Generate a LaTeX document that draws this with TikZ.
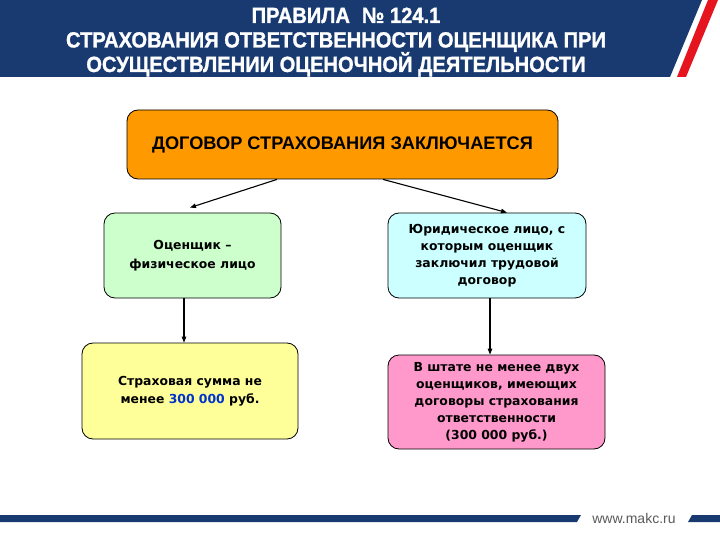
\documentclass[tikz,border=0pt]{standalone}
\usepackage{fontspec}
\setmainfont{DejaVu Sans}
\newfontfamily\titlefont[FakeStretch=0.915, BoldFeatures={FakeBold=1.2}]{Liberation Sans}
\newfontfamily\arialfont{Liberation Sans}
\usetikzlibrary{arrows.meta}
\definecolor{banner}{RGB}{24,58,112}
\definecolor{boxorange}{RGB}{255,153,0}
\definecolor{boxgreen}{RGB}{204,255,204}
\definecolor{boxcyan}{RGB}{204,255,255}
\definecolor{boxyellow}{RGB}{255,255,153}
\definecolor{boxpink}{RGB}{255,153,204}
\definecolor{numblue}{RGB}{0,51,204}
\definecolor{stripered}{RGB}{230,20,30}
\definecolor{urlgray}{RGB}{90,90,90}
\begin{document}
\begin{tikzpicture}[x=1pt,y=-1pt,
  box/.style={draw=black, line width=0.8pt, rounded corners=11pt, align=center, inner sep=2pt,
    font=\bfseries\fontsize{12.4}{17}\selectfont},
  arr/.style={-{Triangle[length=6pt,width=4.5pt]}, line width=1.1pt}]
\useasboundingbox (0,0) rectangle (720,540);
\fill[white] (0,0) rectangle (720,540);
% banner
\fill[banner] (0,0) -- (702,0) -- (670,77) -- (0,77) -- cycle;
\fill[stripered] (708,0) -- (718,0) -- (686,77) -- (677,77) -- cycle;
\node[text=white, align=center, font=\titlefont\bfseries\fontsize{22}{24.5}\selectfont] (title) at (336,42)
  {\hspace*{20pt}ПРАВИЛА\hspace{12pt}№ 124.1\\СТРАХОВАНИЯ ОТВЕТСТВЕННОСТИ ОЦЕНЩИКА ПРИ\\ОСУЩЕСТВЛЕНИИ ОЦЕНОЧНОЙ ДЕЯТЕЛЬНОСТИ};
% boxes
\node[box, fill=boxorange, minimum width=431pt, minimum height=69pt,
  font=\arialfont\bfseries\fontsize{18.2}{20}\selectfont] (top) at (342.5,144.5)
  {ДОГОВОР СТРАХОВАНИЯ ЗАКЛЮЧАЕТСЯ};
\node[box, fill=boxgreen, minimum width=177pt, minimum height=85pt,
  font=\bfseries\fontsize{12.4}{19.5}\selectfont] (g) at (192.5,255.5)
  {Оценщик –\\физическое лицо};
\node[box, fill=boxcyan, minimum width=198pt, minimum height=85pt] (c) at (487,255.5)
  {Юридическое лицо, с\\которым оценщик\\заключил трудовой\\договор};
\node[box, fill=boxyellow, minimum width=216pt, minimum height=96pt,
  font=\bfseries\fontsize{12.4}{18}\selectfont] (y) at (190,391)
  {Страховая сумма не\\менее \textcolor{numblue}{300 000} руб.};
\node[box, fill=boxpink, minimum width=217pt, minimum height=94pt] (p) at (496.5,402)
  {В штате не менее двух\\оценщиков, имеющих\\договоры страхования\\ответственности\\(300 000 руб.)};
% arrows
\draw[arr] ([xshift=-65.5pt]top.south) -- ([xshift=-2.5pt,yshift=5pt]g.north);
\draw[arr] ([xshift=40.5pt]top.south) -- ([xshift=20pt]c.north);
\draw[arr] ([xshift=-8.5pt]g.south) -- ([xshift=-8.5pt]g.south |- y.north);
\draw[arr] ([xshift=3pt]c.south) -- ([xshift=3pt]c.south |- p.north);
% bottom bar
\fill[banner] (0,515) -- (581,515) -- (577,522) -- (0,522) -- cycle;
\fill[banner] (692,515) -- (720,515) -- (720,522) -- (688,522) -- cycle;
\node[text=urlgray, font=\arialfont\fontsize{14}{16}\selectfont] (url) at (634,518) {www.makc.ru};
\end{tikzpicture}
\end{document}
